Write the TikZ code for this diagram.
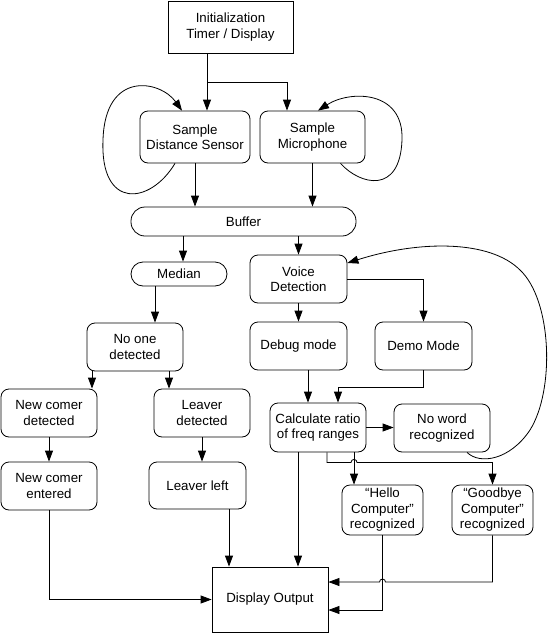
\documentclass[tikz,border=0pt]{standalone}
\usepackage{fontspec}
\setmainfont{Liberation Sans}
\usetikzlibrary{arrows.meta,calc}
\begin{document}
\begin{tikzpicture}[x=1pt,y=-1pt,
  box/.style={draw, rounded corners=8pt, align=center, inner sep=0pt, font=\fontsize{13.3}{15.5}\selectfont, line width=0.8pt},
  sq/.style={box, sharp corners},
  arr/.style={-{Triangle[length=11pt,width=8pt]}, line width=0.8pt},
  ln/.style={line width=0.8pt}]
\useasboundingbox (0,0) rectangle (547,635);

\node[sq, minimum width=125pt, minimum height=52pt] (init) at (230.5,27) {Initialization\\Timer / Display};
\node[box, minimum width=110pt, minimum height=52pt] (sds) at (195,137) {Sample\\Distance Sensor};
\node[box, minimum width=105pt, minimum height=52pt] (smic) at (312.5,137) {Sample\\Microphone};
\node[box, rounded corners=14pt, minimum width=225pt, minimum height=29pt] (buffer) at (243.5,221.5) {Buffer};
\node[box, rounded corners=12pt, minimum width=96pt, minimum height=24pt] (median) at (179,274) {Median};
\node[box, minimum width=97pt, minimum height=48pt] (vd) at (298.5,279) {Voice\\Detection};
\node[box, minimum width=97pt, minimum height=48pt] (debug) at (298.5,346) {Debug mode};
\node[box, minimum width=97pt, minimum height=48pt] (demo) at (423.5,346) {Demo Mode};
\node[box, minimum width=96pt, minimum height=49pt] (calc) at (318,427.5) {Calculate ratio\\of freq ranges};
\node[box, minimum width=96pt, minimum height=48pt] (noword) at (442,428) {No word\\recognized};
\node[box, minimum width=81pt, minimum height=50pt] (hello) at (382.5,510) {“Hello\\Computer”\\recognized};
\node[box, minimum width=81pt, minimum height=50pt] (goodbye) at (492.5,510) {“Goodbye\\Computer”\\recognized};
\node[sq, minimum width=116pt, minimum height=65pt] (display) at (270,599.5) {Display Output};
\node[box, minimum width=96pt, minimum height=48pt] (noone) at (135,347) {No one\\detected};
\node[box, minimum width=96pt, minimum height=48pt] (ncd) at (49,413) {New comer\\detected};
\node[box, minimum width=96pt, minimum height=48pt] (leaverd) at (202,413) {Leaver\\detected};
\node[box, minimum width=96pt, minimum height=48pt] (nce) at (49,486) {New comer\\entered};
\node[box, minimum width=97pt, minimum height=47pt] (leaverl) at (197.5,485.5) {Leaver left};

% init
\draw[arr] ([xshift=-23.5pt]init.south) -- ([xshift=-23.5pt]init.south |- sds.north);
\draw[arr] ([xshift=-23.5pt]init.south) -- ++(0,29) -| ([xshift=-25.5pt]smic.north);
% loops
\draw[arr] ([xshift=-20pt]sds.south) .. controls (150,205) and (100,210) .. (103,140)
  .. controls (105,70) and (160,80) .. ([xshift=-13pt]sds.north);
\draw[arr] ([xshift=28pt]smic.south) .. controls (360,185) and (400,195) .. (402,140)
  .. controls (404,90) and (350,90) .. ([xshift=5.5pt]smic.north);
% to buffer
\draw[arr] (sds.south) -- (sds.south |- buffer.north);
\draw[arr] (smic.south) -- (smic.south |- buffer.north);
\draw[arr] ([xshift=4pt]median.north |- buffer.south) -- ([xshift=4pt]median.north);
\draw[arr] (vd.north |- buffer.south) -- (vd.north);
% left branch
\draw[arr] ([xshift=-24pt]median.south) -- ([xshift=-24pt]median.south |- noone.north);
\draw[arr] ([xshift=-43pt]noone.south) -- ([xshift=-43pt]noone.south |- ncd.north);
\draw[arr] ([xshift=34pt]noone.south) -- ([xshift=34pt]noone.south |- leaverd.north);
\draw[arr] (ncd.south) -- (nce.north);
\draw[arr] (leaverd.south) -- (leaverd.south |- leaverl.north);
\draw[arr] ([xshift=31.5pt]leaverl.south) -- ([xshift=31.5pt]leaverl.south |- display.north);
\draw[arr] (nce.south) |- (display.west);
% voice branch
\draw[arr] (vd.south) -- (debug.north);
\draw[arr] (vd.east) -| (demo.north);
\draw[arr] ([xshift=9.5pt]debug.south) -- ([xshift=9.5pt]debug.south |- calc.north);
\draw[arr] (demo.south) -- ++(0,17) -| ([xshift=20pt]calc.north);
\draw[arr] (calc.east) -- (calc.east -| noword.west);
\draw[arr] ([xshift=25pt]noword.south) .. controls (480,465) and (510,460) .. (530,430)
  .. controls (555,390) and (552,300) .. (520,270)
  .. controls (490,240) and (420,240) .. ([yshift=16pt]vd.east);
% calc outputs
\draw[arr] ([xshift=-20pt]calc.south) -- ([xshift=-20pt]calc.south |- display.north);
\draw[arr] ([xshift=36pt]calc.south) -- ([xshift=36pt]calc.south |- hello.north);
\draw[arr] ([xshift=9pt]calc.south) -- ++(0,10) -- ++(24,0) arc[start angle=180,end angle=0,radius=3pt] -| (goodbye.north);
\draw[arr] (hello.south) |- ([yshift=-10.5pt]display.east);
\draw[arr] (goodbye.south) |- ($(hello.south |- display.east)+(3,-17.5)$) arc[start angle=0,end angle=180,radius=3pt] -- ([yshift=17.5pt]display.east);
\end{tikzpicture}
\end{document}
